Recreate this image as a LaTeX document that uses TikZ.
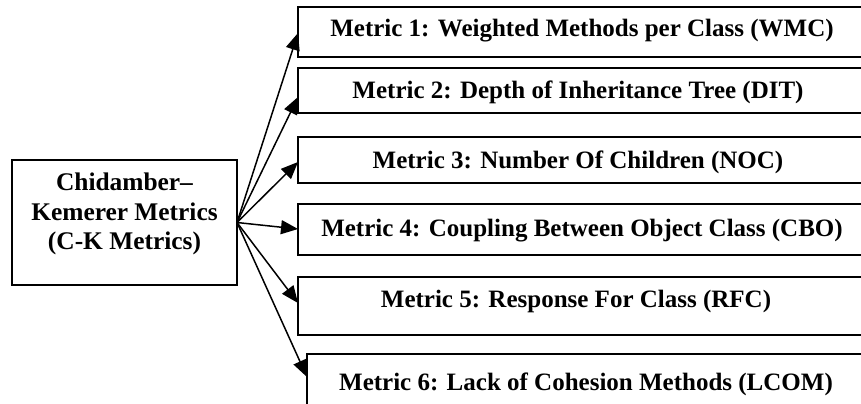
\documentclass[tikz,border=0pt]{standalone}
\usepackage{fontspec}
\setmainfont{Liberation Serif}
\usetikzlibrary{arrows.meta,calc}
\tikzset{
  box/.style={draw, line width=1pt, inner sep=0pt, outer sep=0pt, anchor=north west},
  lbl/.style={font=\fontsize{12.5}{14.5}\selectfont\bfseries, inner sep=0pt, align=center},
  srclbl/.style={font=\fontsize{12.7}{14.6}\selectfont\bfseries, inner sep=0pt, align=center},
  arr/.style={line width=0.75pt, -{Triangle[length=8.5pt,width=7pt]}}
}
\begin{document}
\begin{tikzpicture}[x=0.5pt,y=-0.5pt]
\useasboundingbox (0,0) rectangle (861,403);
\clip (0,0) rectangle (861,403);
% source box
\node[box, minimum width=112.5pt, minimum height=62.5pt] (src) at (12,160) {};
\node[srclbl] (srct) at (124.5,214) {Chidamber\textendash\\Kemerer Metrics\\(C-K Metrics)};
% metric boxes
\node[box, minimum width=284pt, minimum height=25pt] (b1) at (298,7) {};
\node[box, minimum width=284pt, minimum height=22.5pt] (b2) at (298,68) {};
\node[box, minimum width=284pt, minimum height=23pt] (b3) at (298,137) {};
\node[box, minimum width=284pt, minimum height=25.5pt] (b4) at (298,204) {};
\node[box, minimum width=284pt, minimum height=29pt] (b5) at (298,277) {};
\node[box, minimum width=280pt, minimum height=40pt] (b6) at (307,354) {};
% labels
\node[lbl] (t1) at (582,31) {Metric 1: Weighted Methods per Class (WMC)};
\node[lbl] (t2) at (578,92) {Metric 2: Depth of Inheritance Tree (DIT)};
\node[lbl] (t3) at (578,162) {Metric 3: Number Of Children (NOC)};
\node[lbl] (t4) at (582,231) {Metric 4: Coupling Between Object Class (CBO)};
\node[lbl] (t5) at (576,301) {Metric 5: Response For Class (RFC)};
\node[lbl] (t6) at (586,384) {Metric 6: Lack of Cohesion Methods (LCOM)};
% connectors
\draw[arr] (src.east) -- ($(b1.west)+(0,1)$);
\draw[arr] (src.east) -- ($(b2.west)+(0,6.5)$);
\draw[arr] (src.east) -- ($(b3.west)+(0,2)$);
\draw[arr] (src.east) -- ($(b4.west)+(0,-0.5)$);
\draw[arr] (src.east) -- ($(b5.west)+(0,-3)$);
\draw[arr] (src.east) -- ($(b6.north west)+(0,23)$);
\end{tikzpicture}
\end{document}
